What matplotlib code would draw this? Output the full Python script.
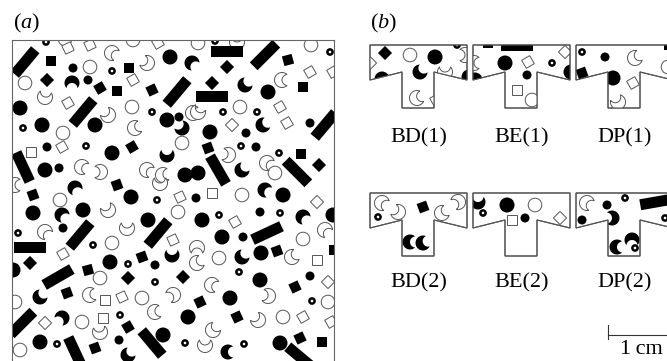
import matplotlib
matplotlib.use("Agg")
import matplotlib.pyplot as plt
import numpy as np
from matplotlib.patches import Polygon, Circle

plt.rcParams['font.family'] = ['Liberation Serif', 'DejaVu Serif']
plt.rcParams['mathtext.fontset'] = 'custom'
plt.rcParams['mathtext.rm'] = 'Liberation Serif'
plt.rcParams['mathtext.it'] = 'Liberation Serif:italic'

# ---- panel (a): shapes in the sample box (x, y[, angle]) ----
big_dots = [(170, 57), (20, 108), (167, 120), (42, 125), (95, 125), (112, 153), (45, 170),
            (185, 175), (198, 173), (268, 92), (210, 132), (33, 213), (83, 210), (131, 197),
            (148, 220), (110, 262), (13, 270), (188, 317), (40, 342), (163, 335), (283, 195),
            (202, 220), (222, 237), (261, 253), (260, 280), (230, 298), (280, 343), (333, 215)]
small_dots = [(73, 68), (88, 80), (179, 117), (47, 147), (59, 168), (310, 123), (246, 133),
              (256, 147), (63, 228), (155, 265), (119, 340), (196, 198), (260, 212), (243, 237),
              (310, 276)]
rings = [(46, 42), (112, 71), (152, 112), (23, 128), (86, 146), (215, 41), (330, 52), (223, 112),
         (257, 112), (241, 146), (279, 153), (157, 200), (18, 233), (93, 245), (128, 264),
         (155, 282), (120, 315), (57, 344), (185, 343), (219, 215), (280, 213), (239, 272),
         (312, 301), (244, 344)]
open_circles = [(90, 67), (25, 83), (132, 107), (63, 133), (182, 143), (198, 43), (311, 45),
                (240, 107), (275, 173), (60, 200), (178, 212), (112, 243), (100, 278), (142, 298),
                (15, 302), (82, 322), (20, 350), (242, 195), (303, 239), (219, 258), (283, 317),
                (328, 302), (133, 40), (65, 39)]
filled_squares = [(51, 61, 0), (129, 68, 0), (47, 80, 45), (100, 88, 30), (117, 91, 0),
                  (152, 90, 25), (132, 147, 30), (227, 67, 45), (288, 60, 15), (212, 83, 45),
                  (303, 87, 0), (208, 148, 20), (301, 154, 0), (319, 165, 45), (33, 195, 20),
                  (117, 185, 20), (30, 263, 45), (142, 257, 20), (88, 270, 15), (128, 278, 45),
                  (183, 277, 45), (67, 293, 20), (128, 327, 30), (95, 348, 20), (277, 251, 20),
                  (295, 287, 25), (200, 302, 25), (237, 317, 25), (300, 338, 25), (322, 342, 0),
                  (334, 250, 0)]
open_squares = [(68, 48, 25), (90, 45, 25), (158, 43, 30), (133, 80, 30), (68, 103, 30),
                (31, 152, 0), (62, 147, 30), (310, 72, 30), (333, 72, 30), (280, 107, 30),
                (287, 123, 30), (232, 125, 45), (180, 197, 25), (173, 240, 25), (63, 254, 30),
                (105, 300, 0), (122, 297, 25), (45, 323, 45), (103, 318, 0), (212, 193, 0),
                (317, 202, 45), (235, 222, 30), (317, 260, 0), (328, 282, 45), (303, 317, 30),
                (331, 322, 30)]
bars = [(25, 62, 50), (177, 92, 50), (83, 112, 50), (23, 167, -65), (227, 52, 0), (265, 55, 45),
        (212, 97, 0), (325, 125, 50), (218, 170, -60), (297, 172, -45), (80, 235, 50),
        (158, 233, 50), (30, 248, 0), (58, 277, 30), (22, 323, 45), (152, 343, -50),
        (75, 352, -65), (267, 233, 25), (300, 357, -40)]
filled_moons = [(192, 63, -45), (72, 83, -90), (182, 128, 135), (167, 155, 90), (245, 85, 45),
                (263, 125, 30), (242, 170, 45), (75, 188, -60), (62, 215, -45), (172, 255, 90),
                (40, 297, 45), (62, 318, -135), (128, 355, 45), (265, 190, -30), (303, 217, -45),
                (242, 257, 45), (228, 352, 0)]
open_moons = [(112, 53, -30), (147, 63, 150), (45, 97, 80), (108, 115, 135), (193, 113, 0),
              (135, 128, 20), (82, 167, -20), (100, 172, 180), (147, 170, -30), (163, 175, 10),
              (237, 42, 90), (282, 80, 0), (198, 112, 60), (228, 155, 170), (267, 163, -30),
              (15, 185, 0), (108, 210, 120), (160, 183, 90), (45, 232, -45), (127, 228, 90),
              (197, 248, -90), (197, 263, 30), (90, 295, 10), (173, 295, -150), (155, 312, 10),
              (100, 332, 100), (325, 230, -45), (212, 285, -20), (268, 296, 170), (292, 257, 30),
              (258, 320, 135), (213, 330, 45), (205, 345, 90)]

# ---- panel (b): T-shaped sub-domains, shapes as (kind, x, y, angle) ----
t_x = [0, 97, 97, 64, 64, 32, 32, 0]
t_y = [0, 0, 35, 27, 63, 63, 27, 35]
panel_names = ['BD(1)', 'BE(1)', 'DP(1)', 'BD(2)', 'BE(2)', 'DP(2)']
panel_x0 = [370, 473, 576, 370, 473, 576]
panel_y0 = [45, 45, 45, 193, 193, 193]
label_y = [138, 138, 138, 283, 283, 283]

bd1 = [('fsq', 15, 8, 45), ('ocirc', 40, 10, 0), ('dot', 65, 12, 0), ('ring', 87, 0, 0),
       ('omoon', 95, 10, 180), ('osq', 0, 18, 45), ('dot', 12, 34, 0), ('fmoon', 50, 27, 45),
       ('omoon', 75, 27, 90), ('dot', 99, 32, 0), ('omoon', 47, 53, 20), ('osq', 66, 55, 30)]
be1 = [('bar', 44, 0, 0), ('fsq', 15, -2, 0), ('omoon', 1, 18, 0), ('dot', 32, 18, 0),
       ('osq', 55, 17, 30), ('ring', 79, 18, 0), ('osq', 92, 7, 45), ('dot', 98, 27, 0),
       ('dot', 2, 35, 0), ('sdot', 54, 30, 0), ('osq', 44, 45, 0), ('ocirc', 59, 55, 0)]
dp1 = [('ring', 6, 7, 0), ('sdot', 29, 12, 0), ('omoon', 59, 13, 30), ('fsq', 6, 28, 20),
       ('dot', 37, 33, 0), ('osq', 57, 38, 30), ('omoon', 42, 57, 120), ('ocirc', 92, 22, 0),
       ('fsq', 93, 0, 0)]
bd2 = [('omoon', 12, 10, -30), ('omoon', 28, 19, 150), ('ring', 8, 24, 0), ('fsq', 53, 14, 20),
       ('omoon', 88, 9, -150), ('omoon', 72, 20, 30), ('fmoon', 40, 49, 0), ('fmoon', 53, 50, 20)]
be2 = [('fmoon', 5, 9, 90), ('ring', 10, 20, 0), ('dot', 34, 12, 0), ('osq', 39, 27, 0),
       ('sdot', 52, 25, 0), ('ocirc', 62, 12, 0), ('osq', 87, 25, 45)]
dp2 = [('omoon', 11, 10, -30), ('sdot', 31, 12, 0), ('ring', 49, 5, 0), ('bar', 80, 9, 10),
       ('ring', 89, 25, 0), ('sdot', 6, 27, 0), ('fmoon', 36, 25, 180), ('fmoon', 56, 47, -90),
       ('fmoon', 41, 54, 0), ('ring', 59, 55, 0)]
panel_shapes = [bd1, be1, dp1, bd2, be2, dp2]

EDGE = '#555555'


def turn(x, y, u, v, ang):
    a = np.radians(ang)
    return np.column_stack([x + u * np.cos(a) - v * np.sin(a),
                            y - (u * np.sin(a) + v * np.cos(a))])


def rect_pts(x, y, w, h, ang):
    u = np.array([-w / 2, w / 2, w / 2, -w / 2])
    v = np.array([-h / 2, -h / 2, h / 2, h / 2])
    return turn(x, y, u, v, ang)


def moon_pts(x, y, ang, R=7.5, rb=5.5, d=5.5):
    # circle of radius R with a circular bite (radius rb, centre offset d)
    xi = (R ** 2 - rb ** 2 + d ** 2) / (2 * d)
    yi = np.sqrt(R ** 2 - xi ** 2)
    phi0 = np.arctan2(yi, xi)
    t1 = np.linspace(phi0, 2 * np.pi - phi0, 40)
    a1 = np.arctan2(-yi, xi - d)
    a2 = np.arctan2(yi, xi - d)
    t2 = np.linspace(a1, a2 - 2 * np.pi, 30)
    u = np.concatenate([R * np.cos(t1), d + rb * np.cos(t2)])
    v = np.concatenate([R * np.sin(t1), rb * np.sin(t2)])
    return turn(x, y, u, v, ang)


def draw_shape(ax, kind, x, y, ang=0, clip=None):
    if kind == 'dot':
        p = Circle((x, y), 7.5, fc='black', ec='none')
    elif kind == 'sdot':
        p = Circle((x, y), 4.5, fc='black', ec='none')
    elif kind == 'ring':
        p = Circle((x, y), 2.6, fc='none', ec='black', lw=1.8)
    elif kind == 'ocirc':
        p = Circle((x, y), 6.8, fc='white', ec=EDGE, lw=0.7)
    elif kind == 'fsq':
        p = Polygon(rect_pts(x, y, 10, 10, ang), closed=True, fc='black', ec='none')
    elif kind == 'osq':
        p = Polygon(rect_pts(x, y, 9.3, 9.3, ang), closed=True, fc='white', ec=EDGE, lw=0.7)
    elif kind == 'bar':
        p = Polygon(rect_pts(x, y, 32, 11, ang), closed=True, fc='black', ec='none')
    elif kind == 'fmoon':
        p = Polygon(moon_pts(x, y, ang), closed=True, fc='black', ec='none')
    else:
        p = Polygon(moon_pts(x, y, ang), closed=True, fc='white', ec=EDGE, lw=0.7)
    ax.add_patch(p)
    if clip is not None:
        p.set_clip_path(clip)


fig = plt.figure(figsize=(6.67, 3.61), dpi=100)

# panel (a)
axa = fig.add_axes([12 / 667, -1 / 361, 322 / 667, 322 / 361])
axa.set_xlim(12, 334)
axa.set_ylim(362, 40)
axa.set_xticks([])
axa.set_yticks([])
for s in axa.spines.values():
    s.set_color('#666666')
    s.set_linewidth(0.8)

for x, y in big_dots:
    draw_shape(axa, 'dot', x, y)
for x, y in small_dots:
    draw_shape(axa, 'sdot', x, y)
for x, y in open_circles:
    draw_shape(axa, 'ocirc', x, y)
for x, y, a in open_squares:
    draw_shape(axa, 'osq', x, y, a)
for x, y, a in open_moons:
    draw_shape(axa, 'omoon', x, y, a)
for x, y, a in filled_squares:
    draw_shape(axa, 'fsq', x, y, a)
for x, y, a in bars:
    draw_shape(axa, 'bar', x, y, a)
for x, y, a in filled_moons:
    draw_shape(axa, 'fmoon', x, y, a)
for x, y in rings:
    draw_shape(axa, 'ring', x, y)

# panel (b) and labels
ax = fig.add_axes([0, 0, 1, 1])
ax.set_xlim(0, 667)
ax.set_ylim(361, 0)
ax.axis('off')

for name, x0, y0, ly, shapes in zip(panel_names, panel_x0, panel_y0, label_y, panel_shapes):
    verts = np.column_stack([np.array(t_x) + x0, np.array(t_y) + y0])
    tp = Polygon(verts, closed=True, fc='white', ec=EDGE, lw=0.8, zorder=1)
    ax.add_patch(tp)
    for kind, x, y, a in shapes:
        draw_shape(ax, kind, x + x0, y + y0, a, clip=tp)
    ax.add_patch(Polygon(verts, closed=True, fc='none', ec=EDGE, lw=0.8, zorder=3))
    ax.text(x0 + 48.5, ly, name, ha='center', va='center', fontsize=16)

ax.text(13, 23, r'($\mathit{a}$)', ha='left', va='center', fontsize=16)
ax.text(370, 23, r'($\mathit{b}$)', ha='left', va='center', fontsize=16)

# scale bar
ax.plot([608, 608], [325, 339], color='#333333', lw=0.8)
ax.plot([608, 680], [335, 335], color='#333333', lw=0.8)
ax.text(641, 349, '1\u2009cm', ha='center', va='center', fontsize=16)

fig.savefig('out.png', dpi=100)
